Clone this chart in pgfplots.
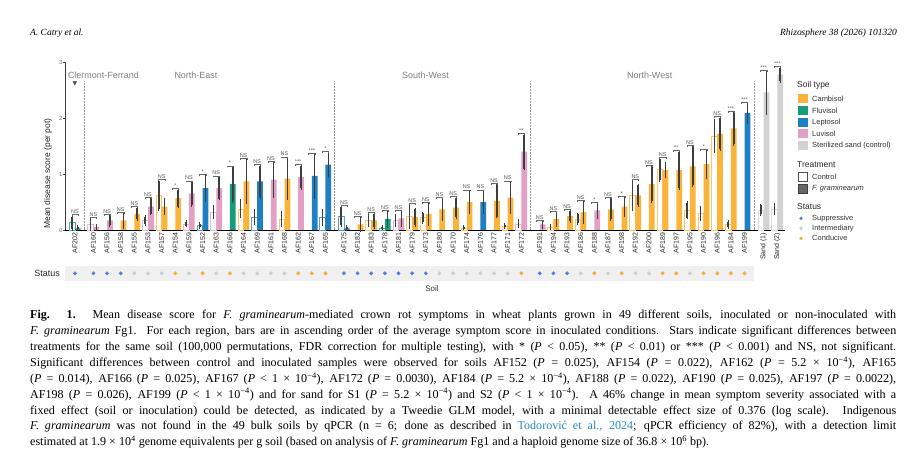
\documentclass[border=0pt]{standalone}
\usepackage{fontspec}
\setmainfont{Liberation Serif}
\newfontfamily\arial{Liberation Sans}
\newfontfamily\dejavu{DejaVu Sans}
\usepackage{pgfplots}
\usepackage{pgfplotstable}
\pgfplotsset{compat=1.18}
\usetikzlibrary{backgrounds}

\definecolor{cambisol}{RGB}{251,180,58}
\definecolor{fluvisol}{RGB}{22,155,125}
\definecolor{leptosol}{RGB}{30,128,195}
\definecolor{luvisol}{RGB}{226,160,196}
\definecolor{sandc}{RGB}{210,210,210}
\definecolor{supp}{RGB}{80,125,225}
\definecolor{interm}{RGB}{205,205,205}
\definecolor{cond}{RGB}{250,170,35}
\definecolor{errc}{RGB}{62,62,62}
\definecolor{linkc}{RGB}{40,140,195}
\definecolor{bandc}{RGB}{240,240,240}

\newcommand\tickfont{\arial\fontsize{7}{8}\selectfont}
\newcommand\ytickfont{\arial\fontsize{6}{7}\selectfont}
\newcommand\sigfont{\arial\fontsize{5.5}{6}\selectfont}
\newcommand\regfont{\arial\fontsize{9}{10}\selectfont}
\newcommand\legfont{\arial\fontsize{7.5}{8}\selectfont}
\newcommand\leghead{\arial\fontsize{8.5}{9}\selectfont}
\newcommand\capfont{\fontsize{12.1}{14}\selectfont}
\newcommand\Pv{\textit{P}}

% x  control  control-err  inoculated  inoculated-err
\pgfplotstableread{
x c ce i ie
3.35 0 0 0.17 0.12
4.35 0 0 0.29 0.10
6.35 0.62 0.25 0.42 0.13
7.35 0 0 0.57 0.15
12.35 0.38 0.14 0.87 0.38
15.35 0.20 0.11 0.92 0.36
20.7 0 0 0.10 0.10
21.7 0.17 0.08 0.17 0.12
24.7 0.25 0.20 0.23 0.14
25.7 0.22 0.08 0.29 0.18
26.7 0 0 0.37 0.18
27.7 0 0 0.40 0.17
28.7 0.04 0.01 0.50 0.19
30.7 0 0 0.52 0.28
31.7 0.07 0.02 0.58 0.27
35.05 0.05 0.02 0.20 0.11
36.05 0 0 0.25 0.09
37.05 0.20 0.08 0.32 0.18
39.05 0 0 0.37 0.18
40.05 0 0 0.42 0.16
41.05 0.62 0.25 0.62 0.18
42.05 0 0 0.82 0.31
43.05 1.08 0.19 1.07 0.11
44.05 0 0 1.07 0.32
45.05 0.35 0.13 1.14 0.34
46.05 0.30 0.10 1.18 0.24
47.05 1.68 0.28 1.72 0.28
48.05 0.10 0.05 1.82 0.28
}\cambisoltab
\pgfplotstableread{
x c ce i ie
0 0.13 0.11 0.03 0.02
11.35 0 0 0.82 0.30
22.7 0.04 0.01 0.20 0.13
}\fluvisoltab
\pgfplotstableread{
x c ce i ie
9.35 0.08 0.03 0.75 0.21
13.35 0.23 0.11 0.87 0.28
17.35 0 0 0.97 0.38
18.35 0.22 0.12 1.17 0.21
19.7 0.25 0.16 0.03 0.02
29.7 0 0 0.50 0.19
49.05 0 0 2.09 0.16
}\leptosoltab
\pgfplotstableread{
x c ce i ie
1.35 0.10 0.08 0.05 0.03
2.35 0 0 0.17 0.08
5.35 0.17 0.07 0.42 0.13
8.35 0.11 0.03 0.65 0.20
10.35 0.32 0.10 0.75 0.19
14.35 0 0 0.90 0.30
16.35 0 0 0.95 0.20
23.7 0.17 0.08 0.21 0.12
32.7 0.11 0.05 1.40 0.30
34.05 0 0 0.10 0.05
38.05 0 0 0.35 0.12
}\luvisoltab
\pgfplotstableread{
x c ce i ie
50.45 0.36 0.08 2.46 0.37
51.45 0.37 0.08 2.78 0.12
}\sandtab

\pgfplotsset{
  errstyle/.style={
    error bars/y dir=both, error bars/y explicit,
    error bars/error bar style={draw=errc, line width=1.5bp},
    error bars/error mark options={draw=errc, mark size=1.7bp, line width=0.9bp}},
  ctrl/.style={ybar, bar width=0.42, bar shift=0, fill=white, draw=#1!75, line width=0.5bp,
    y filter/.expression={y<0.005 ? nan : y}, errstyle},
  inoc/.style={ybar, bar width=0.42, bar shift=0, fill=#1, draw=none, errstyle},
}

\begin{document}
\begin{tikzpicture}[x=1bp,y=1bp]
\begin{axis}[
  name=ax, at={(0,0)}, anchor=origin,
  scale only axis, width=719.8bp, height=167.7bp,
  xmin=-0.7326, xmax=52, ymin=0, ymax=3,
  enlargelimits=false, clip=false,
  axis x line=bottom, axis y line=left,
  x axis line style={-, black, line width=0.8bp},
  y axis line style={-, errc, line width=0.6bp},
  xtick={0,1.35,2.35,3.35,4.35,5.35,6.35,7.35,8.35,9.35,10.35,11.35,12.35,13.35,14.35,15.35,16.35,17.35,18.35,
         19.7,20.7,21.7,22.7,23.7,24.7,25.7,26.7,27.7,28.7,29.7,30.7,31.7,32.7,
         34.05,35.05,36.05,37.05,38.05,39.05,40.05,41.05,42.05,43.05,44.05,45.05,46.05,47.05,48.05,49.05,
         50.45,51.45},
  xticklabels={AF202,AF160,AF156,AF158,AF155,AF153,AF157,AF154,AF159,AF152,AF163,AF166,AF164,AF169,AF161,AF168,AF162,AF167,AF165,
         AF175,AF182,AF183,AF178,AF181,AF179,AF173,AF180,AF170,AF174,AF176,AF177,AF171,AF172,
         AF191,AF194,AF193,AF186,AF188,AF187,AF198,AF192,AF200,AF189,AF197,AF195,AF190,AF196,AF184,AF199,
         {Sand (1)},{Sand (2)}},
  x tick label style={rotate=90, anchor=east, font=\tickfont, text=black!85, inner sep=1bp},
  x tick style={draw=none},
  ytick={0,1,2,3},
  y tick label style={font=\ytickfont, text=black!55, inner sep=0.5bp},
  y tick style={draw=errc, line width=0.5bp},
  tick align=outside, major tick length=1.8bp,
  /pgf/number format/assume math mode=true,
]
% status band and separators
\fill[bandc] (axis cs:-0.7326,-0.639) rectangle (axis cs:49.74,-0.907);
\draw[densely dotted, black!40, line width=0.5bp] (axis cs:0.675,0) -- (axis cs:0.675,2.67);
\draw[densely dotted, black!40, line width=0.5bp] (axis cs:19.025,0) -- (axis cs:19.025,2.67);
\draw[densely dotted, black!40, line width=0.5bp] (axis cs:33.375,0) -- (axis cs:33.375,2.67);
\draw[densely dotted, black!40, line width=0.5bp] (axis cs:49.75,0) -- (axis cs:49.75,2.67);
\node[font=\regfont, text=black!50] at (axis cs:2.08,2.77) {Clermont-Ferrand};
\node[font=\regfont, text=black!50] at (axis cs:8.86,2.77) {North-East};
\node[font=\regfont, text=black!50] at (axis cs:25.68,2.77) {South-West};
\node[font=\regfont, text=black!50] at (axis cs:42.1,2.77) {North-West};
\node[font=\dejavu\fontsize{6}{6}\selectfont, text=black!70, inner sep=0] at (axis cs:0,2.62) {▼};

% bars: control (left) and F. graminearum (right) of each soil
\addplot[ctrl=cambisol] table[x expr=\thisrow{x}-0.21,y=c,y error=ce]{\cambisoltab};
\addplot[inoc=cambisol] table[x expr=\thisrow{x}+0.21,y=i,y error=ie]{\cambisoltab};
\addplot[ctrl=fluvisol] table[x expr=\thisrow{x}-0.21,y=c,y error=ce]{\fluvisoltab};
\addplot[inoc=fluvisol] table[x expr=\thisrow{x}+0.21,y=i,y error=ie]{\fluvisoltab};
\addplot[ctrl=leptosol] table[x expr=\thisrow{x}-0.21,y=c,y error=ce]{\leptosoltab};
\addplot[inoc=leptosol] table[x expr=\thisrow{x}+0.21,y=i,y error=ie]{\leptosoltab};
\addplot[ctrl=luvisol] table[x expr=\thisrow{x}-0.21,y=c,y error=ce]{\luvisoltab};
\addplot[inoc=luvisol] table[x expr=\thisrow{x}+0.21,y=i,y error=ie]{\luvisoltab};
\addplot[ctrl=sandc] table[x expr=\thisrow{x}-0.21,y=c,y error=ce]{\sandtab};
\addplot[inoc=sandc] table[x expr=\thisrow{x}+0.21,y=i,y error=ie]{\sandtab};

% status dots
\addplot[only marks, mark=*, mark size=1.7bp, color=supp] coordinates {
 (0,-0.775) (1.35,-0.775) (2.35,-0.775) (3.35,-0.775) (19.7,-0.775) (20.7,-0.775) (21.7,-0.775)
 (22.7,-0.775) (23.7,-0.775) (24.7,-0.775) (25.7,-0.775) (34.05,-0.775) (35.05,-0.775) (36.05,-0.775)};
\addplot[only marks, mark=*, mark size=1.7bp, color=interm] coordinates {
 (4.35,-0.775) (5.35,-0.775) (6.35,-0.775) (8.35,-0.775) (10.35,-0.775) (12.35,-0.775) (13.35,-0.775)
 (14.35,-0.775) (15.35,-0.775) (26.7,-0.775) (27.7,-0.775) (28.7,-0.775) (29.7,-0.775) (30.7,-0.775)
 (31.7,-0.775) (37.05,-0.775) (39.05,-0.775) (41.05,-0.775) (42.05,-0.775) (45.05,-0.775)};
\addplot[only marks, mark=*, mark size=1.7bp, color=cond] coordinates {
 (7.35,-0.775) (9.35,-0.775) (11.35,-0.775) (16.35,-0.775) (17.35,-0.775) (18.35,-0.775) (32.7,-0.775)
 (38.05,-0.775) (40.05,-0.775) (43.05,-0.775) (44.05,-0.775) (46.05,-0.775) (47.05,-0.775) (48.05,-0.775) (49.05,-0.775)};

% significance brackets
\foreach \xx/\yy/\sg in {0/0.28/NS, 1.35/0.22/NS, 2.35/0.28/NS, 3.35/0.32/NS, 4.35/0.42/NS, 5.35/0.58/NS,
  6.35/0.90/NS, 7.35/0.75/*, 8.35/0.88/NS, 9.35/0.99/*, 10.35/0.97/NS, 11.35/1.15/*, 12.35/1.28/NS,
  13.35/1.18/NS, 14.35/1.23/NS, 15.35/1.31/NS, 16.35/1.18/***, 17.35/1.38/***, 18.35/1.41/*,
  19.7/0.44/NS, 20.7/0.24/NS, 21.7/0.32/NS, 22.7/0.36/NS, 23.7/0.36/NS, 24.7/0.48/NS, 25.7/0.50/NS,
  26.7/0.58/NS, 27.7/0.60/NS, 28.7/0.72/NS, 29.7/0.72/NS, 30.7/0.83/NS, 31.7/0.88/NS, 32.7/1.73/**,
  34.05/0.18/NS, 35.05/0.34/NS, 36.05/0.37/NS, 37.05/0.53/NS, 38.05/0.50/*, 39.05/0.58/NS, 40.05/0.61/*,
  41.05/0.90/NS, 42.05/1.16/NS, 43.05/1.30/NS, 44.05/1.42/**, 45.05/1.51/NS, 46.05/1.45/*, 47.05/2.03/NS,
  48.05/2.13/***, 49.05/2.28/***, 50.45/2.86/***, 51.45/2.93/***}{%
  \edef\temp{\noexpand\draw[black!60, line width=0.4bp] (axis cs:\xx,\yy) ++(axis direction cs:-0.23,-0.03) -- ++(axis direction cs:0,0.03) -- ++(axis direction cs:0.46,0) -- ++(axis direction cs:0,-0.03);
    \noexpand\node[anchor=south, inner sep=0.6bp, font=\noexpand\sigfont, text=black!65] at (axis cs:\xx,\yy) {\sg};}%
  \temp
}
\end{axis}

\begin{scope}[shift={(ax.origin)}, shift={(-75,-237)}]
% header
\node[anchor=base west, inner sep=0, font=\itshape\fontsize{9.5}{10}\selectfont] at (30,431) {A. Catry et al.};
\node[anchor=base east, inner sep=0, font=\itshape\fontsize{9.5}{10}\selectfont] at (897,431) {Rhizosphere 38 (2026) 101320};

% axis titles
\node[rotate=90, font=\arial\fontsize{8.5}{9}\selectfont, text=black!85] at (48,293.5) {Mean disease score (per pot)};
\node[anchor=east, font=\arial\fontsize{9}{10}\selectfont, text=black!85, inner sep=0] at (60,193.7) {Status};
\node[font=\arial\fontsize{8}{9}\selectfont, text=black!80, inner sep=0] at (432,178) {Soil};

% legend
\node[anchor=west, font=\leghead, text=black!85, inner sep=0] at (797,382) {Soil type};
\fill[cambisol] (797.7,363.5) rectangle (807.7,372.5);
\fill[fluvisol] (797.7,351.8) rectangle (807.7,360.8);
\fill[leptosol] (797.7,340.2) rectangle (807.7,349.2);
\fill[luvisol]  (797.7,328.5) rectangle (807.7,337.5);
\fill[sandc]    (797.7,316.8) rectangle (807.7,325.8);
\node[anchor=west, font=\legfont, text=black!80, inner sep=0] at (812,368) {Cambisol};
\node[anchor=west, font=\legfont, text=black!80, inner sep=0] at (812,356.3) {Fluvisol};
\node[anchor=west, font=\legfont, text=black!80, inner sep=0] at (812,344.7) {Leptosol};
\node[anchor=west, font=\legfont, text=black!80, inner sep=0] at (812,333) {Luvisol};
\node[anchor=west, font=\legfont, text=black!80, inner sep=0] at (812,321.3) {Sterilized sand (control)};
\node[anchor=west, font=\leghead, text=black!85, inner sep=0] at (797,302.7) {Treatment};
\filldraw[fill=white, draw=black!70, line width=0.5bp] (798,285.8) rectangle (807.5,294.8);
\filldraw[fill=black!60, draw=black!75, line width=0.5bp] (798,274.2) rectangle (807.5,283.2);
\node[anchor=west, font=\legfont, text=black!80, inner sep=0] at (812,290.3) {Control};
\node[anchor=west, font=\legfont\itshape, text=black!80, inner sep=0] at (812,278.7) {F. graminearum};
\node[anchor=west, font=\leghead, text=black!85, inner sep=0] at (797,260.3) {Status};
\fill[supp] (801,248.7) circle (1.8);
\fill[interm] (801,238.7) circle (1.8);
\fill[cond] (801,228.7) circle (1.8);
\node[anchor=west, font=\legfont, text=black!80, inner sep=0] at (812,248.7) {Suppressive};
\node[anchor=west, font=\legfont, text=black!80, inner sep=0] at (812,238.7) {Intermediary};
\node[anchor=west, font=\legfont, text=black!80, inner sep=0] at (812,228.7) {Conducive};

% caption
\node[anchor=base west, inner sep=0] at (30,148) {\capfont\makebox[866bp][s]{\textbf{Fig. 1.} Mean disease score for \textit{F. graminearum}-mediated crown rot symptoms in wheat plants grown in 49 different soils, inoculated or non-inoculated with}};
\node[anchor=base west, inner sep=0] at (30,132.15) {\capfont\makebox[866bp][s]{\textit{F. graminearum} Fg1. For each region, bars are in ascending order of the average symptom score in inoculated conditions. Stars indicate significant differences between}};
\node[anchor=base west, inner sep=0] at (30,116.3) {\capfont\makebox[866bp][s]{treatments for the same soil (100,000 permutations, FDR correction for multiple testing), with * (\Pv{} < 0.05), ** (\Pv{} < 0.01) or *** (\Pv{} < 0.001) and NS, not significant.}};
\node[anchor=base west, inner sep=0] at (30,100.45) {\capfont\makebox[866bp][s]{Significant differences between control and inoculated samples were observed for soils AF152 (\Pv{} = 0.025), AF154 (\Pv{} = 0.022), AF162 (\Pv{} = 5.2 × 10\textsuperscript{−4}), AF165}};
\node[anchor=base west, inner sep=0] at (30,84.6) {\capfont\makebox[866bp][s]{(\Pv{} = 0.014), AF166 (\Pv{} = 0.025), AF167 (\Pv{} < 1 × 10\textsuperscript{−4}), AF172 (\Pv{} = 0.0030), AF184 (\Pv{} = 5.2 × 10\textsuperscript{−4}), AF188 (\Pv{} = 0.022), AF190 (\Pv{} = 0.025), AF197 (\Pv{} = 0.0022),}};
\node[anchor=base west, inner sep=0] at (30,68.75) {\capfont\makebox[866bp][s]{AF198 (\Pv{} = 0.026), AF199 (\Pv{} < 1 × 10\textsuperscript{−4}) and for sand for S1 (\Pv{} = 5.2 × 10\textsuperscript{−4}) and S2 (\Pv{} < 1 × 10\textsuperscript{−4}). A 46\% change in mean symptom severity associated with a}};
\node[anchor=base west, inner sep=0] at (30,52.9) {\capfont\makebox[866bp][s]{fixed effect (soil or inoculation) could be detected, as indicated by a Tweedie GLM model, with a minimal detectable effect size of 0.376 (log scale). Indigenous}};
\node[anchor=base west, inner sep=0] at (30,37.05) {\capfont\makebox[866bp][s]{\textit{F. graminearum} was not found in the 49 bulk soils by qPCR (n = 6; done as described in \textcolor{linkc}{Todorović et al., 2024}; qPCR efficiency of 82\%), with a detection limit}};
\node[anchor=base west, inner sep=0] at (30,21.2) {\capfont estimated at 1.9 × 10\textsuperscript{4} genome equivalents per g soil (based on analysis of \textit{F. graminearum} Fg1 and a haploid genome size of 36.8 × 10\textsuperscript{6} bp).};

\begin{scope}[on background layer]
\fill[white] (0,0) rectangle (922,467);
\end{scope}
\pgfresetboundingbox
\path[use as bounding box] (0,0) rectangle (922,467);
\end{scope}
\end{tikzpicture}
\end{document}
